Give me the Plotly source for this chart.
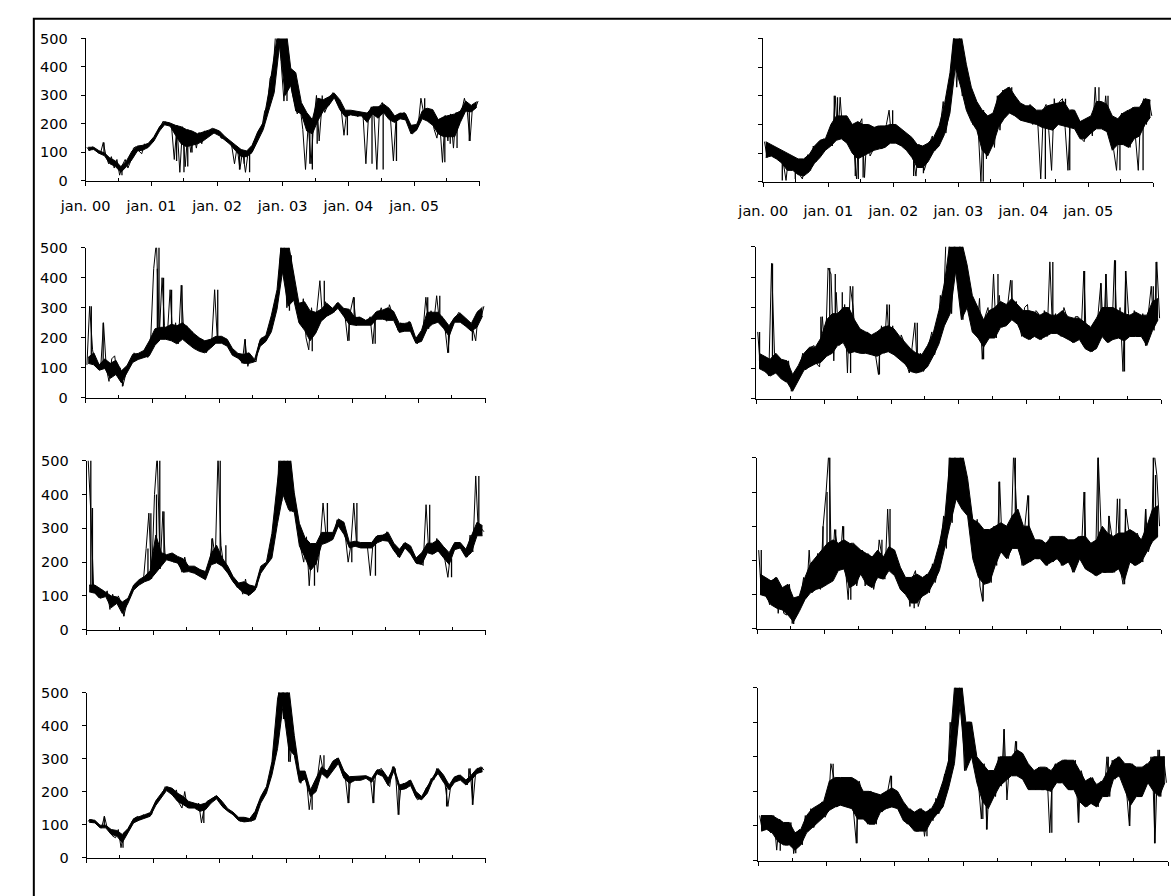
import plotly.graph_objects as go

W, H = 1171, 896

# ---------------- data ----------------
# monthly core band (mid-month) and semi-monthly extreme readings, Jan 2000 .. Dec 2005
months = [f"{y}-{m:02d}-15" for y in range(2000, 2006) for m in range(1, 13)]
half_months = [f"{y}-{m:02d}-{d:02d}" for y in range(2000, 2006) for m in range(1, 13) for d in (8, 23)]

year_ticks = [f"{y}-01-01" for y in range(2000, 2007)]
year_labels = ["jan. 00", "jan. 01", "jan. 02", "jan. 03", "jan. 04", "jan. 05", ""]
half_year_ticks = [f"{y}-07-01" for y in range(2000, 2006)]
y_ticks = [0, 100, 200, 300, 400, 500]

# ---- panel left 1
left_1_upper = [118, 118, 106, 98, 80, 70, 50, 70, 105, 122, 125, 132,
                155, 190, 208, 203, 195, 190, 180, 175, 165, 172, 178, 183,
                175, 155, 142, 125, 110, 105, 125, 172, 205, 310, 440, 560,
                560, 395, 380, 275, 240, 215, 290, 285, 295, 308, 285, 248,
                248, 245, 242, 238, 260, 260, 270, 255, 228, 238, 236, 195,
                198, 245, 255, 250, 215, 225, 230, 235, 245, 280, 265, 278]
left_1_lower = [108, 110, 97, 88, 60, 50, 30, 50, 75, 105, 108, 118,
                140, 175, 197, 192, 160, 130, 120, 125, 130, 140, 155, 168,
                158, 142, 128, 105, 85, 85, 100, 140, 180, 245, 310, 480,
                300, 335, 245, 235, 175, 165, 210, 245, 265, 292, 250, 225,
                232, 228, 228, 205, 235, 220, 240, 215, 205, 218, 214, 165,
                178, 218, 210, 195, 165, 155, 155, 155, 205, 245, 242, 258]
left_1_extremes = [118, 105, 120, 108, 100, 95, 135, 88, 60, 85, 45, 75, 20, 55, 75, 45, 70, 115, 120, 105, 95, 130, 115, 135,
                   140, 160, 180, 195, 210, 200, 205, 190, 75, 195, 30, 190, 50, 180, 100, 165, 115, 170, 130, 175, 165, 180, 185, 175,
                   175, 150, 150, 140, 140, 125, 60, 120, 40, 105, 30, 100, 95, 135, 150, 175, 190, 245, 260, 360, 380, 520, 520, 420,
                   280, 400, 380, 310, 270, 235, 260, 180, 40, 200, 60, 210, 300, 140, 270, 240, 265, 295, 310, 295, 275, 250, 160, 240,
                   240, 230, 245, 225, 240, 230, 60, 235, 260, 230, 40, 260, 275, 240, 255, 215, 70, 220, 230, 235, 240, 220, 190, 165,
                   175, 190, 290, 240, 255, 210, 240, 180, 150, 210, 65, 230, 140, 235, 115, 240, 200, 245, 290, 250, 140, 270, 255, 280]
left_1_spikes = [("2000-04-12", 135), ("2000-07-21", 20), ("2001-05-21", 70), ("2001-07-01", 30),
                 ("2001-07-22", 50), ("2001-08-15", 100), ("2002-05-06", 40), ("2002-06-01", 60),
                 ("2002-07-01", 30), ("2003-01-25", 280), ("2003-06-01", 60), ("2003-06-15", 40),
                 ("2003-07-12", 130), ("2003-08-09", 300), ("2003-12-27", 160), ("2004-05-12", 60),
                 ("2004-07-13", 40), ("2004-09-25", 70), ("2005-03-01", 290), ("2005-06-21", 65),
                 ("2005-07-21", 130), ("2005-08-28", 115), ("2005-11-04", 140)]

# ---- panel right 1
right_1_upper = [140, 130, 120, 110, 100, 90, 80, 80, 95, 125, 145, 150,
                 200, 230, 230, 230, 200, 210, 200, 200, 190, 195, 195, 200,
                 200, 185, 170, 155, 130, 125, 135, 155, 195, 270, 380, 560,
                 520, 410, 330, 280, 250, 230, 240, 300, 320, 330, 300, 275,
                 265, 265, 250, 250, 265, 270, 275, 280, 250, 250, 210, 220,
                 230, 280, 280, 270, 230, 220, 240, 250, 260, 260, 290, 285]
right_1_lower = [85, 90, 80, 65, 40, 40, 25, 20, 35, 65, 85, 110,
                 125, 145, 150, 135, 100, 80, 90, 100, 110, 115, 120, 135,
                 135, 125, 110, 85, 50, 50, 70, 105, 125, 165, 240, 400,
                 330, 250, 210, 180, 110, 90, 130, 190, 220, 240, 230, 215,
                 210, 205, 200, 190, 185, 180, 200, 195, 190, 185, 150, 150,
                 170, 185, 185, 175, 110, 130, 130, 120, 150, 160, 200, 225]
right_1_extremes = [140, 85, 125, 90, 115, 80, 105, 65, 5, 95, 40, 85, 75, 25, 10, 70, 95, 40, 125, 70, 90, 145, 150, 115,
                    170, 125, 300, 150, 295, 165, 230, 140, 200, 120, 10, 200, 220, 15, 200, 90, 110, 190, 195, 115, 120, 200, 250, 140,
                    200, 140, 185, 125, 170, 110, 150, 90, 20, 130, 125, 40, 70, 135, 160, 110, 130, 200, 280, 170, 240, 360, 520, 330,
                    520, 300, 410, 250, 330, 200, 280, 180, 0, 250, 80, 230, 200, 120, 300, 180, 320, 230, 330, 240, 300, 230, 270, 220,
                    260, 210, 270, 200, 250, 200, 10, 250, 270, 180, 40, 290, 200, 280, 290, 190, 40, 250, 250, 190, 200, 150, 140, 220,
                    220, 160, 330, 190, 280, 190, 300, 180, 230, 110, 40, 220, 240, 130, 250, 120, 260, 150, 40, 260, 290, 200, 280, 230]
right_1_spikes = [("2000-04-17", 5), ("2000-06-29", 10), ("2001-02-03", 300), ("2001-02-21", 295),
                  ("2001-06-01", 20), ("2001-06-18", 10), ("2001-07-15", 15), ("2001-12-28", 250),
                  ("2002-04-25", 20), ("2002-06-19", 30), ("2003-05-21", 0), ("2003-08-15", 300),
                  ("2003-10-28", 330), ("2004-05-04", 10), ("2004-08-25", 290), ("2004-09-18", 40),
                  ("2005-03-01", 330), ("2005-04-21", 300), ("2005-06-27", 40), ("2005-11-04", 40)]

# ---- panel left 2
left_2_upper = [135, 150, 110, 130, 115, 125, 90, 108, 145, 148, 158, 190,
                230, 235, 235, 245, 240, 250, 235, 215, 200, 190, 195, 205,
                205, 195, 165, 148, 145, 150, 128, 195, 208, 275, 360, 560,
                520, 415, 315, 320, 290, 285, 295, 315, 298, 318, 298, 295,
                268, 268, 258, 268, 288, 292, 300, 288, 248, 248, 252, 198,
                225, 285, 285, 285, 265, 240, 268, 282, 265, 248, 285, 302]
left_2_lower = [115, 110, 92, 98, 65, 78, 50, 85, 118, 128, 135, 140,
                175, 195, 195, 190, 180, 195, 180, 165, 155, 150, 165, 182,
                182, 172, 142, 132, 115, 115, 120, 172, 188, 220, 295, 420,
                305, 325, 250, 225, 190, 215, 255, 272, 282, 298, 272, 245,
                242, 242, 242, 242, 262, 262, 258, 258, 218, 222, 222, 182,
                188, 230, 245, 252, 232, 205, 252, 252, 238, 222, 235, 272]
left_2_extremes = [110, 305, 160, 105, 110, 95, 250, 100, 55, 130, 140, 75, 100, 40, 80, 110, 125, 150, 140, 130, 150, 140, 135, 200,
                   430, 520, 210, 400, 240, 200, 360, 190, 250, 180, 375, 200, 240, 180, 220, 165, 200, 155, 180, 150, 170, 195, 360, 190,
                   205, 185, 195, 175, 160, 145, 140, 135, 115, 195, 105, 140, 125, 120, 180, 200, 195, 205, 240, 280, 300, 370, 520, 520,
                   300, 475, 420, 330, 320, 245, 330, 200, 160, 300, 210, 290, 390, 260, 320, 275, 300, 285, 315, 295, 300, 270, 190, 290,
                   335, 240, 270, 245, 260, 245, 270, 180, 285, 270, 300, 270, 255, 310, 280, 260, 225, 250, 240, 225, 255, 220, 195, 180,
                   195, 225, 335, 230, 290, 250, 340, 255, 270, 235, 150, 240, 260, 270, 285, 255, 260, 240, 245, 230, 190, 290, 270, 305]
left_2_spikes = [("2000-02-01", 305), ("2000-04-06", 250), ("2000-07-21", 38), ("2001-01-28", 430),
                 ("2001-02-06", 520), ("2001-03-03", 400), ("2001-04-16", 360), ("2001-06-12", 375),
                 ("2001-12-25", 360), ("2002-05-25", 195), ("2003-01-22", 290), ("2003-02-01", 475),
                 ("2003-05-27", 155), ("2003-08-01", 390), ("2003-12-15", 190), ("2004-01-12", 335),
                 ("2004-05-06", 180), ("2005-02-18", 335), ("2005-04-25", 340), ("2005-06-12", 150),
                 ("2005-10-21", 190)]

# ---- panel right 2
right_2_upper = [150, 140, 130, 150, 130, 125, 80, 110, 150, 170, 170, 200,
                 260, 280, 280, 300, 300, 260, 230, 220, 210, 220, 235, 240,
                 230, 205, 185, 165, 150, 145, 175, 215, 290, 380, 520, 560,
                 520, 440, 340, 300, 260, 290, 300, 320, 310, 330, 310, 290,
                 290, 285, 275, 285, 275, 275, 290, 270, 265, 265, 250, 235,
                 265, 300, 300, 300, 290, 280, 275, 285, 275, 275, 320, 330]
right_2_lower = [100, 90, 75, 85, 65, 55, 25, 60, 95, 105, 115, 120,
                 140, 150, 175, 185, 150, 155, 150, 150, 145, 140, 150, 155,
                 145, 130, 115, 90, 85, 90, 105, 140, 180, 240, 280, 420,
                 260, 300, 220, 200, 170, 200, 200, 235, 240, 260, 245, 205,
                 195, 205, 195, 205, 215, 215, 205, 195, 185, 195, 165, 155,
                 165, 205, 185, 195, 200, 190, 205, 205, 205, 175, 225, 260]
right_2_extremes = [220, 100, 140, 95, 75, 445, 150, 85, 130, 65, 55, 125, 25, 80, 65, 110, 150, 95, 105, 170, 175, 115, 105, 270,
                    140, 430, 410, 125, 350, 175, 185, 310, 85, 370, 300, 155, 230, 150, 150, 220, 210, 145, 140, 80, 240, 150, 310, 155,
                    240, 145, 135, 210, 190, 115, 85, 170, 250, 85, 150, 90, 105, 180, 220, 145, 190, 340, 260, 520, 520, 280, 520, 420,
                    520, 260, 440, 300, 340, 220, 210, 330, 130, 270, 300, 210, 410, 200, 340, 235, 245, 310, 390, 265, 320, 245, 205, 300,
                    310, 195, 205, 290, 280, 195, 290, 205, 450, 215, 280, 215, 205, 300, 270, 195, 185, 270, 270, 195, 420, 165, 240, 155,
                    165, 270, 380, 205, 410, 185, 195, 455, 200, 300, 90, 420, 280, 205, 290, 205, 205, 280, 175, 280, 370, 225, 450, 265]
right_2_spikes = [("2000-01-18", 220), ("2000-03-28", 445), ("2000-12-15", 270), ("2001-02-01", 430),
                  ("2001-03-03", 410), ("2001-04-10", 350), ("2001-05-25", 85), ("2001-06-06", 370),
                  ("2001-10-28", 80), ("2001-12-21", 310), ("2002-05-21", 250), ("2003-05-15", 130),
                  ("2003-08-01", 410), ("2003-10-16", 390), ("2004-05-24", 450), ("2004-11-12", 420),
                  ("2005-02-09", 380), ("2005-03-07", 410), ("2005-04-28", 455), ("2005-06-16", 90),
                  ("2005-06-22", 420), ("2005-11-19", 370), ("2005-12-04", 450)]

# ---- panel left 3
left_3_upper = [132, 132, 122, 112, 100, 97, 82, 93, 132, 148, 158, 175,
                280, 228, 222, 227, 217, 210, 188, 188, 178, 172, 225, 250,
                212, 188, 158, 138, 142, 132, 128, 188, 200, 285, 440, 560,
                560, 405, 315, 272, 255, 255, 288, 288, 288, 328, 318, 258,
                262, 258, 258, 258, 278, 280, 288, 256, 238, 258, 248, 212,
                228, 256, 256, 266, 246, 228, 258, 258, 238, 280, 318, 308]
left_3_lower = [112, 108, 93, 98, 65, 78, 48, 78, 117, 132, 142, 148,
                168, 188, 207, 202, 197, 170, 172, 167, 157, 148, 192, 198,
                188, 167, 142, 122, 108, 103, 117, 167, 191, 212, 315, 400,
                355, 348, 248, 214, 175, 195, 252, 258, 267, 307, 282, 242,
                247, 242, 242, 242, 257, 264, 262, 234, 213, 242, 224, 197,
                193, 228, 223, 233, 213, 193, 237, 242, 214, 228, 278, 278]
left_3_extremes = [520, 360, 130, 105, 95, 120, 100, 115, 60, 105, 75, 100, 80, 40, 75, 95, 115, 130, 140, 145, 145, 240, 345, 150,
                   400, 520, 180, 350, 210, 220, 215, 200, 205, 195, 170, 215, 180, 175, 170, 185, 160, 175, 150, 170, 200, 270, 210, 520,
                   250, 190, 175, 165, 150, 140, 125, 135, 105, 150, 100, 125, 120, 125, 170, 185, 190, 200, 240, 290, 310, 520, 380, 520,
                   520, 350, 410, 360, 320, 240, 200, 275, 130, 240, 255, 170, 260, 375, 280, 265, 270, 285, 325, 315, 300, 275, 200, 250,
                   375, 255, 250, 245, 255, 245, 160, 260, 275, 265, 280, 270, 290, 265, 255, 235, 215, 240, 255, 245, 245, 225, 210, 195,
                   200, 190, 370, 230, 250, 225, 270, 240, 235, 205, 155, 230, 250, 240, 255, 245, 225, 215, 280, 230, 455, 280, 300, 290]
left_3_spikes = [("2000-01-24", 520), ("2000-02-02", 360), ("2000-07-24", 40), ("2000-12-03", 240),
                 ("2000-12-19", 345), ("2001-01-19", 400), ("2001-02-06", 520), ("2001-03-01", 350),
                 ("2001-11-19", 270), ("2002-01-04", 520), ("2002-02-04", 250), ("2003-06-06", 130),
                 ("2003-08-16", 375), ("2003-12-28", 200), ("2004-01-25", 375), ("2004-05-06", 160),
                 ("2005-02-28", 370), ("2005-06-28", 155), ("2005-11-25", 455)]

# ---- panel right 3
right_3_upper = [160, 150, 140, 150, 120, 130, 90, 95, 150, 190, 210, 230,
                 250, 260, 250, 260, 250, 245, 230, 220, 210, 230, 210, 240,
                 230, 180, 150, 150, 160, 150, 160, 190, 250, 330, 520, 560,
                 520, 440, 320, 310, 290, 290, 300, 310, 300, 330, 350, 300,
                 300, 260, 260, 250, 270, 270, 270, 260, 260, 270, 270, 250,
                 260, 300, 280, 270, 280, 280, 290, 280, 260, 300, 350, 360]
right_3_lower = [100, 95, 70, 60, 55, 40, 20, 50, 85, 105, 115, 120,
                 130, 140, 170, 175, 120, 130, 160, 130, 120, 150, 145, 170,
                 155, 115, 100, 75, 75, 95, 105, 135, 170, 235, 310, 380,
                 350, 330, 205, 150, 130, 135, 185, 225, 205, 235, 235, 185,
                 195, 205, 205, 185, 195, 205, 185, 195, 165, 205, 175, 165,
                 155, 165, 165, 165, 175, 140, 195, 185, 195, 225, 255, 270]
right_3_extremes = [230, 100, 150, 95, 70, 140, 150, 45, 120, 45, 40, 130, 15, 90, 55, 95, 150, 90, 230, 105, 115, 220, 115, 300,
                    400, 520, 140, 290, 250, 175, 300, 175, 85, 250, 250, 125, 165, 230, 125, 220, 210, 115, 155, 260, 210, 145, 350, 175,
                    230, 155, 180, 115, 105, 150, 65, 150, 170, 65, 95, 150, 160, 105, 190, 135, 175, 250, 330, 235, 520, 310, 520, 390,
                    520, 350, 440, 330, 320, 205, 320, 125, 80, 290, 290, 135, 300, 185, 430, 225, 300, 205, 235, 520, 350, 235, 185, 300,
                    390, 195, 260, 205, 205, 260, 250, 185, 270, 195, 205, 270, 185, 270, 260, 195, 165, 260, 270, 205, 400, 175, 250, 165,
                    155, 520, 300, 165, 165, 330, 270, 165, 380, 175, 130, 350, 290, 195, 185, 280, 260, 195, 350, 225, 255, 520, 450, 300]
right_3_spikes = [("2000-01-22", 230), ("2000-07-16", 14), ("2000-12-22", 300), ("2001-01-13", 400),
                  ("2001-01-28", 520), ("2001-03-01", 290), ("2001-04-13", 300), ("2001-05-22", 85),
                  ("2001-11-07", 260), ("2001-12-21", 350), ("2002-05-01", 60), ("2003-05-10", 80),
                  ("2003-08-04", 430), ("2003-11-01", 520), ("2004-01-12", 390), ("2004-11-12", 400),
                  ("2005-01-24", 520), ("2005-03-24", 330), ("2005-05-21", 380), ("2005-06-16", 130),
                  ("2005-06-21", 350), ("2005-10-09", 350), ("2005-11-19", 520), ("2005-12-01", 450)]

# ---- panel left 4
left_4_upper = [115, 113, 98, 98, 85, 82, 70, 88, 118, 125, 130, 136,
                172, 195, 215, 210, 195, 185, 170, 165, 160, 165, 178, 188,
                170, 148, 138, 122, 122, 118, 140, 185, 215, 290, 480, 560,
                520, 370, 262, 262, 205, 240, 275, 262, 292, 302, 262, 245,
                246, 246, 248, 240, 266, 264, 240, 276, 220, 225, 235, 200,
                185, 215, 242, 270, 250, 220, 245, 250, 235, 250, 270, 272]
left_4_lower = [107, 105, 90, 90, 70, 65, 45, 75, 105, 113, 118, 125,
                158, 180, 203, 190, 170, 160, 150, 150, 140, 145, 165, 178,
                155, 140, 130, 112, 108, 110, 115, 165, 195, 250, 330, 460,
                330, 310, 228, 238, 185, 200, 255, 240, 262, 285, 240, 225,
                234, 234, 240, 228, 254, 246, 218, 262, 205, 208, 218, 182,
                175, 195, 232, 255, 228, 205, 228, 235, 220, 235, 255, 260]
left_4_extremes = [110, 115, 112, 105, 95, 90, 125, 90, 85, 65, 60, 85, 30, 75, 80, 85, 110, 120, 125, 115, 130, 120, 135, 130,
                   160, 175, 180, 200, 215, 205, 210, 185, 205, 165, 150, 200, 150, 165, 160, 150, 165, 105, 150, 170, 175, 180, 185, 180,
                   165, 150, 145, 140, 135, 130, 120, 110, 115, 120, 115, 110, 115, 150, 170, 185, 200, 215, 250, 300, 360, 520, 520, 420,
                   520, 290, 380, 320, 255, 225, 260, 240, 145, 200, 220, 245, 310, 265, 250, 260, 280, 295, 300, 290, 250, 240, 165, 245,
                   240, 235, 240, 245, 245, 240, 240, 165, 260, 265, 270, 250, 225, 215, 275, 270, 130, 215, 225, 210, 235, 220, 190, 175,
                   180, 185, 210, 220, 240, 235, 270, 255, 240, 225, 155, 215, 240, 245, 250, 240, 230, 220, 270, 160, 260, 270, 275, 265]
left_4_spikes = [("2000-04-07", 125), ("2000-07-19", 30), ("2001-10-06", 105), ("2002-12-18", 420),
                 ("2003-01-15", 290), ("2003-05-24", 145), ("2003-07-28", 310), ("2003-12-12", 165),
                 ("2004-04-27", 165), ("2004-09-12", 130), ("2005-06-01", 155), ("2005-10-01", 270),
                 ("2005-10-21", 160)]

# ---- panel right 4
right_4_upper = [130, 130, 130, 120, 110, 110, 80, 90, 130, 150, 160, 170,
                 230, 240, 240, 240, 240, 230, 200, 200, 195, 190, 200, 210,
                 200, 170, 150, 140, 150, 140, 150, 180, 230, 290, 500, 560,
                 400, 400, 300, 280, 260, 260, 300, 300, 300, 320, 310, 280,
                 260, 270, 270, 260, 280, 290, 290, 290, 260, 230, 240, 220,
                 230, 260, 290, 300, 280, 280, 270, 270, 280, 300, 300, 300]
right_4_lower = [85, 90, 80, 55, 45, 45, 30, 45, 80, 95, 110, 125,
                 145, 155, 160, 155, 150, 120, 120, 105, 105, 140, 150, 155,
                 150, 115, 105, 85, 85, 85, 115, 135, 155, 210, 280, 450,
                 260, 300, 225, 170, 150, 185, 215, 230, 245, 245, 235, 205,
                 205, 205, 205, 200, 225, 225, 205, 205, 170, 155, 165, 155,
                 185, 185, 235, 245, 205, 160, 185, 185, 225, 200, 185, 225]
right_4_extremes = [130, 85, 125, 90, 80, 130, 30, 120, 110, 45, 45, 110, 20, 80, 90, 45, 130, 85, 150, 95, 115, 160, 170, 125,
                    145, 280, 240, 155, 160, 240, 235, 155, 240, 150, 50, 230, 200, 125, 105, 200, 195, 105, 190, 140, 155, 200, 245, 155,
                    200, 150, 170, 115, 105, 150, 140, 85, 85, 150, 70, 140, 150, 115, 180, 135, 155, 250, 210, 400, 280, 520, 520, 450,
                    260, 400, 400, 300, 300, 225, 120, 280, 90, 260, 260, 185, 300, 215, 380, 175, 300, 245, 345, 245, 310, 235, 280, 205,
                    260, 205, 270, 205, 205, 270, 80, 260, 280, 225, 225, 290, 290, 205, 205, 290, 110, 260, 230, 155, 165, 240, 220, 155,
                    230, 185, 300, 185, 290, 235, 300, 245, 280, 205, 100, 280, 270, 185, 185, 270, 280, 225, 300, 50, 320, 185, 300, 225]
right_4_spikes = [("2000-04-27", 28), ("2000-07-19", 21), ("2001-02-04", 280), ("2001-06-12", 50),
                  ("2001-12-13", 245), ("2002-06-21", 70), ("2002-11-01", 400), ("2003-02-10", 400),
                  ("2003-04-16", 120), ("2003-05-06", 90), ("2003-08-07", 380), ("2003-10-13", 345),
                  ("2004-04-19", 80), ("2004-09-10", 110), ("2005-02-15", 300), ("2005-06-10", 100),
                  ("2005-10-01", 300), ("2005-10-21", 50), ("2005-11-16", 320)]

# ---------------- layout (pixel boxes of each plot area) ----------------
panels = [
    # upper, lower, extremes, spikes, x0, x1, ytop, ybottom, is_left, show_dates
    (left_1_upper, left_1_lower, left_1_extremes, left_1_spikes, 61, 464, 31, 176, True, True),
    (right_1_upper, right_1_lower, right_1_extremes, right_1_spikes, 754, 1153, 31, 177, False, True),
    (left_2_upper, left_2_lower, left_2_extremes, left_2_spikes, 61, 470, 244, 397, True, False),
    (right_2_upper, right_2_lower, right_2_extremes, right_2_spikes, 747, 1161, 243, 398, False, False),
    (left_3_upper, left_3_lower, left_3_extremes, left_3_spikes, 62, 470, 461, 633, True, False),
    (right_3_upper, right_3_lower, right_3_extremes, right_3_spikes, 748, 1161, 458, 632, False, False),
    (left_4_upper, left_4_lower, left_4_extremes, left_4_spikes, 62, 470, 697, 865, True, False),
    (right_4_upper, right_4_lower, right_4_extremes, right_4_spikes, 749, 1168, 692, 868, False, False),
]

FONT = dict(family="DejaVu Sans, Arial, sans-serif", size=14.5, color="black")


def month_of(d):
    return (int(d[:4]) - 2000) * 12 + int(d[5:7]) - 1


fig = go.Figure()
layout = dict(
    width=W, height=H, margin=dict(l=0, r=0, t=0, b=0, pad=0),
    paper_bgcolor="white", plot_bgcolor="white", showlegend=False, font=FONT,
)

for i, (upper, lower, extremes, spikes, x0, x1, yt, yb, is_left, show_dates) in enumerate(panels, start=1):
    sfx = "" if i == 1 else str(i)
    xa, ya = f"x{sfx}", f"y{sfx}"
    # dense core of the series
    fig.add_trace(go.Scatter(x=months, y=upper, mode="lines", line=dict(color="black", width=1),
                             xaxis=xa, yaxis=ya, hoverinfo="skip"))
    fig.add_trace(go.Scatter(x=months, y=lower, mode="lines", line=dict(color="black", width=1),
                             fill="tonexty", fillcolor="black",
                             xaxis=xa, yaxis=ya, hoverinfo="skip"))
    # semi-monthly extremes (the noisy daily swings)
    fig.add_trace(go.Scatter(x=half_months, y=extremes, mode="lines", line=dict(color="black", width=1),
                             xaxis=xa, yaxis=ya, hoverinfo="skip"))
    # isolated spikes
    sx, sy = [], []
    for d, v in spikes:
        k = month_of(d)
        sx += [d, d, None]
        sy += [(upper[k] + lower[k]) / 2, v, None]
    fig.add_trace(go.Scatter(x=sx, y=sy, mode="lines", line=dict(color="black", width=1.3),
                             connectgaps=False, xaxis=xa, yaxis=ya, hoverinfo="skip"))

    layout[f"xaxis{sfx}"] = dict(
        domain=[x0 / W, x1 / W], anchor=ya, type="date",
        range=["2000-01-01", "2006-01-01"],
        showline=True, linecolor="black", linewidth=1,
        showgrid=False, zeroline=False,
        tickmode="array", tickvals=year_ticks, ticktext=year_labels,
        ticks="outside", ticklen=4, tickwidth=1, tickcolor="black",
        showticklabels=show_dates, tickfont=FONT,
        ticklabelstandoff=(8 if is_left else 12),
        minor=dict(tickmode="array", tickvals=half_year_ticks, ticks="inside",
                   ticklen=3, tickwidth=1, tickcolor="black", showgrid=False),
        fixedrange=True,
    )
    layout[f"yaxis{sfx}"] = dict(
        domain=[1 - yb / H, 1 - yt / H], anchor=xa,
        range=[0, 500],
        showline=True, linecolor="black", linewidth=1,
        showgrid=False, zeroline=False,
        tickmode="array", tickvals=y_ticks,
        ticks="outside", ticklen=4, tickwidth=1, tickcolor="black",
        showticklabels=is_left, tickfont=FONT, ticklabelstandoff=10,
        fixedrange=True,
    )

# outer frame (only its top and left edges fall inside the picture)
layout["shapes"] = [dict(type="rect", xref="paper", yref="paper",
                         x0=8 / W, x1=1.02, y0=-0.02, y1=1 - 11 / H,
                         line=dict(color="black", width=2), fillcolor="rgba(0,0,0,0)")]

fig.update_layout(**layout)
fig.write_html("out.html", config={"displayModeBar": False},
               post_script="document.body.style.margin='0px';")
